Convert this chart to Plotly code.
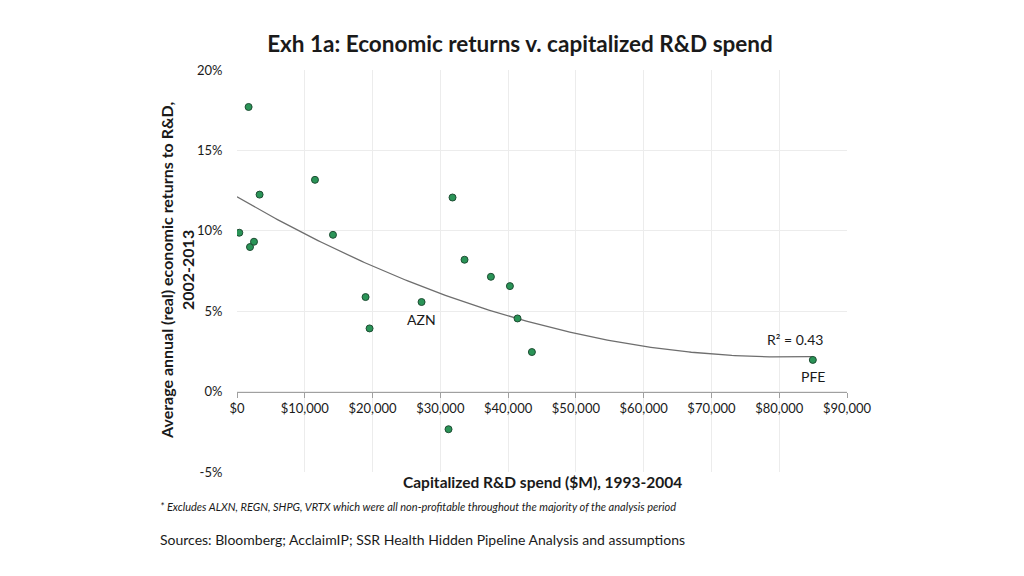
import numpy as np
import plotly.graph_objects as go

# Capitalized R&D spend ($M), 1993-2004
rd_spend = [340, 1711, 1917, 2507, 3333, 11504, 14160, 18970, 19560, 27230,
            31210, 31800, 33570, 37460, 40265, 41390, 43510, 84960]
# Average annual (real) economic returns to R&D, 2002-2013 (%)
returns = [9.88, 17.7, 8.99, 9.32, 12.25, 13.17, 9.75, 5.88, 3.93, 5.57,
           -2.34, 12.07, 8.2, 7.14, 6.56, 4.55, 2.46, 1.97]
labels = ["", "", "", "", "", "", "", "", "", "AZN",
          "", "", "", "", "", "", "", "PFE"]
r2_text = "R² = 0.43"

x_ticks = list(range(0, 90001, 10000))
x_ticktext = ["${:,}".format(v) for v in x_ticks]
y_ticks = [-5, 0, 5, 10, 15, 20]
y_ticktext = ["{}%".format(v) for v in y_ticks]

FONT = "Lato"
TXT = "#1a1a1a"

# quadratic trendline fitted from data
coef = np.polyfit(rd_spend, returns, 2)
xs = np.linspace(0, max(rd_spend), 200)
ys = np.polyval(coef, xs)

fig = go.Figure()
fig.add_trace(go.Scatter(x=xs, y=ys, mode="lines",
                         line=dict(color="#6e6e6e", width=1.3),
                         hoverinfo="skip", showlegend=False))
fig.add_trace(go.Scatter(x=rd_spend, y=returns, mode="markers",
                         marker=dict(size=7, color="#2a9457",
                                     line=dict(color="#1e4d33", width=1)),
                         showlegend=False))

for xv, yv, lab in zip(rd_spend, returns, labels):
    if lab:
        fig.add_annotation(x=xv, y=yv, text=lab, showarrow=False, yshift=-17,
                           font=dict(family=FONT, size=14, color=TXT))

fig.add_annotation(x=rd_spend[-1], y=returns[-1], text=r2_text, showarrow=False,
                   xshift=-18, yshift=20,
                   font=dict(family=FONT, size=14, color=TXT))

# body has an 8px default margin, so margins are offset by 8px
fig.update_layout(
    width=1024, height=576,
    paper_bgcolor="white", plot_bgcolor="white",
    margin=dict(l=229, r=185, t=62, b=112),
    font=dict(family=FONT, color=TXT),
    title=dict(text="<b>Exh 1a: Economic returns v. capitalized R&D spend</b>",
               x=0.5, xanchor="center", y=1 - 36 / 576, yanchor="middle",
               font=dict(family=FONT, size=22.5, color=TXT)),
    xaxis=dict(range=[0, 90000], tickvals=x_ticks, ticktext=x_ticktext,
               showgrid=True, gridcolor="#ececec", gridwidth=1,
               zeroline=False, showline=True, linecolor="#a0a0a0", linewidth=1.3,
               ticks="outside", ticklen=5, tickcolor="#a0a0a0",
               anchor="free", position=0.2,
               tickfont=dict(family=FONT, size=13, color=TXT)),
    yaxis=dict(range=[-5, 20], tickvals=y_ticks, ticktext=y_ticktext,
               showgrid=True, gridcolor="#ececec", gridwidth=1,
               zeroline=False, showline=False,
               ticks="outside", ticklen=11, tickcolor="rgba(0,0,0,0)",
               tickfont=dict(family=FONT, size=13, color=TXT)),
)

PH = 402.0
PW = 610.0
fig.add_annotation(xref="paper", yref="paper", x=0.5, y=-10 / PH,
                   xanchor="center", yanchor="middle",
                   text="<b>Capitalized R&D spend ($M), 1993-2004</b>",
                   showarrow=False, font=dict(family=FONT, size=15.5, color=TXT))
fig.add_annotation(xref="paper", yref="paper", x=(177 - 237) / PW, y=0.5,
                   xanchor="center", yanchor="middle", textangle=-90,
                   text="<b>Average annual (real) economic returns to R&D,<br>2002-2013</b>",
                   showarrow=False, font=dict(family=FONT, size=16, color=TXT))
fig.add_annotation(xref="paper", yref="paper", x=(158 - 237) / PW, y=-34 / PH,
                   xanchor="left", yanchor="middle",
                   text="<i>* Excludes ALXN, REGN, SHPG, VRTX which were all non-profitable throughout the majority of the analysis period</i>",
                   showarrow=False, font=dict(family=FONT, size=11, color=TXT))
fig.add_annotation(xref="paper", yref="paper", x=(158 - 237) / PW, y=-67 / PH,
                   xanchor="left", yanchor="middle",
                   text="Sources: Bloomberg; AcclaimIP; SSR Health Hidden Pipeline Analysis and assumptions",
                   showarrow=False, font=dict(family=FONT, size=14, color=TXT))

fig.write_html("out.html")
